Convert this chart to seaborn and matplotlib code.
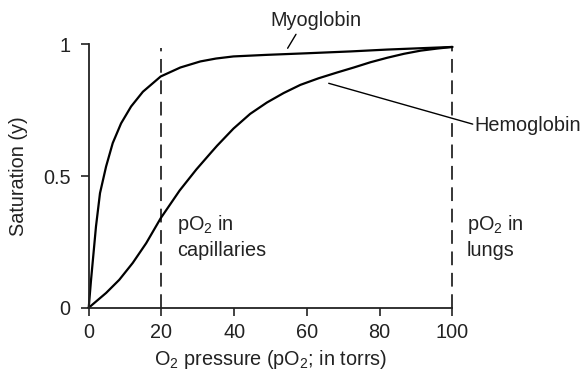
import matplotlib
matplotlib.use("Agg")
import matplotlib.pyplot as plt
import seaborn as sns
import pandas as pd

# O2 pressure (torr) and fractional saturation for each protein
myo_po2 = [0, 0.6, 1.27, 2.0, 3.1, 4.77, 6.6, 8.9, 11.65, 14.9, 19.8, 25.2, 30.7, 35, 39.8, 49, 60, 72, 82, 91, 100]
myo_sat = [0, 0.10, 0.20, 0.309, 0.435, 0.536, 0.625, 0.70, 0.764, 0.82, 0.878, 0.912, 0.935, 0.946, 0.954, 0.960, 0.966, 0.973, 0.980, 0.985, 0.99]

hb_po2 = [0, 4.77, 8.4, 12.1, 15.8, 19.8, 25, 29.6, 33.7, 35.3, 39.8, 44.4, 49, 53.6, 58.2, 63.2, 68.3, 72.9, 77.5, 82.1, 86.7, 91.3, 95.9, 100]
hb_sat = [0, 0.056, 0.106, 0.17, 0.245, 0.34, 0.445, 0.525, 0.59, 0.615, 0.68, 0.736, 0.779, 0.815, 0.846, 0.871, 0.893, 0.912, 0.932, 0.949, 0.964, 0.976, 0.984, 0.99]

x_ticks = [0, 20, 40, 60, 80, 100]
y_ticks = [0, 0.5, 1]
y_tick_labels = ["0", "0.5", "1"]
capillary_po2 = 20
lung_po2 = 100

myo = pd.DataFrame({"po2": myo_po2, "sat": myo_sat})
hb = pd.DataFrame({"po2": hb_po2, "sat": hb_sat})

sns.set_style("ticks")
plt.rcParams["font.family"] = ["Liberation Sans", "DejaVu Sans"]
plt.rcParams["mathtext.fontset"] = "custom"
plt.rcParams["mathtext.rm"] = "Liberation Sans"
plt.rcParams["mathtext.it"] = "Liberation Sans"

FS = 14.3
INK = "#222222"

fig = plt.figure(figsize=(5.88, 3.73), dpi=100)
ax = fig.add_axes([0.1509, 0.175, 0.6184, 0.7062])

sns.lineplot(data=myo, x="po2", y="sat", ax=ax, color="black", lw=1.6, sort=False, clip_on=False)
sns.lineplot(data=hb, x="po2", y="sat", ax=ax, color="black", lw=1.6, sort=False, clip_on=False)

# reference pressures
for xv in (capillary_po2, lung_po2):
    ax.plot([xv, xv], [0, 0.985], color="black", lw=1.1, dashes=(9, 5), clip_on=False)

ax.set_xlim(0, 100)
ax.set_ylim(0, 1)
ax.set_xticks(x_ticks)
ax.set_xticklabels([str(v) for v in x_ticks])
ax.set_yticks(y_ticks)
ax.set_yticklabels(y_tick_labels)
sns.despine(ax=ax)
for s in ("left", "bottom"):
    ax.spines[s].set_linewidth(1.3)
    ax.spines[s].set_color(INK)
ax.tick_params(direction="out", length=6, width=1.2, colors=INK,
               labelsize=FS, labelcolor=INK)
ax.tick_params(axis="x", pad=5)
ax.tick_params(axis="y", pad=7)

ax.set_xlabel("O$_2$ pressure (pO$_2$; in torrs)", fontsize=FS, color=INK, labelpad=4)
ax.set_ylabel("Saturation (y)", fontsize=FS, color=INK, labelpad=11)

txt = dict(fontsize=FS, color=INK, va="top", ha="left", linespacing=1.35)
ax.text(24.4, 0.36, "pO$_2$ in\ncapillaries", **txt)
ax.text(103.9, 0.36, "pO$_2$ in\nlungs", clip_on=False, **txt)

# curve labels with leader lines
ax.plot([54.7, 57.0], [0.985, 1.038], color="black", lw=1.0, clip_on=False)
ax.text(62.6, 1.092, "Myoglobin", fontsize=FS, color=INK, ha="center", va="center")
ax.plot([66.0, 105.6], [0.852, 0.697], color="black", lw=1.0, clip_on=False)
ax.text(106.0, 0.69, "Hemoglobin", fontsize=FS, color=INK, ha="left", va="center")

fig.savefig("out.png", dpi=100)
